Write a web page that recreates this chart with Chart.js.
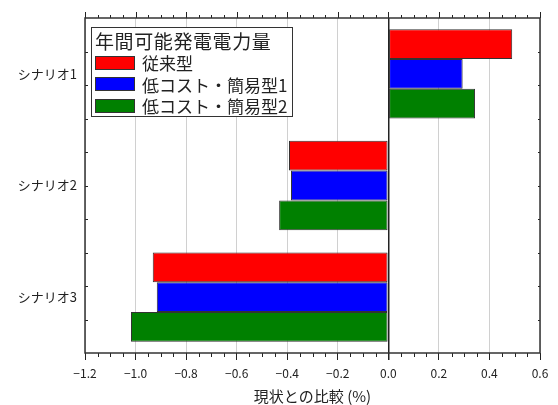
<!DOCTYPE html>
<html>
<head>
<meta charset="utf-8">
<script src="https://cdn.jsdelivr.net/npm/chart.js@4"></script>
<style>
  body { margin: 0; background: #fff; }
  #wrap { position: relative; width: 558px; height: 405px; }
  #legend {
    position: absolute; left: 91px; top: 27px; width: 202px; height: 90px;
    border: 1px solid #333; background: #fff;
    font-family: "Noto Sans CJK JP", sans-serif; color: #222;
    box-sizing: border-box; padding: 1px 0 0 3px; white-space: nowrap;
  }
  #legend .title { font-size: 19px; line-height: 23px; letter-spacing: 0.6px; }
  #legend .row { display: flex; align-items: center; height: 21.5px; font-size: 17px; line-height: 21px; }
  #legend .sw { width: 38px; height: 12px; border: 1px solid #333; margin-right: 7px; flex: none; }
</style>
</head>
<body>
<div id="wrap">
  <canvas id="chart" width="558" height="405"></canvas>
  <div id="legend"></div>
</div>
<script>
document.addEventListener('DOMContentLoaded', () => {
    // データ
    const scenarios = ['シナリオ1', 'シナリオ2', 'シナリオ3'];
    const seriesNames = ['従来型', '低コスト・簡易型1', '低コスト・簡易型2'];
    const juraigata = [0.49, -0.393, -0.932];
    const kanni1 = [0.294, -0.385, -0.916];
    const kanni2 = [0.343, -0.432, -1.018];
    const colors = ['#ff0000', '#0000ff', '#008000'];
    const legendTitle = '年間可能発電電力量';
    const axisTitle = '現状との比較 (%)';

    const fontJP = '"Noto Sans CJK JP", sans-serif';

    // 凡例 (HTML)
    const legend = document.getElementById('legend');
    let html = '<div class="title">' + legendTitle + '</div>';
    seriesNames.forEach((name, i) => {
        html += '<div class="row"><span class="sw" style="background:' + colors[i] + '"></span>' + name + '</div>';
    });
    legend.innerHTML = html;

    // 枠と補助目盛りを描くプラグイン
    const frame = {
        id: 'frame',
        afterDraw(chart) {
            const { ctx, chartArea: a, scales } = chart;
            const x = scales.x;
            ctx.save();
            ctx.strokeStyle = '#222';
            ctx.lineWidth = 1;
            // 補助目盛り（上下）
            for (let v = -1.2; v <= 0.6001; v += 0.05) {
                const px = Math.round(x.getPixelForValue(v)) + 0.5;
                const major = Math.abs(v * 5 - Math.round(v * 5)) < 1e-6;
                const len = major ? 6 : 3;
                ctx.beginPath();
                ctx.moveTo(px, a.top); ctx.lineTo(px, a.top - len);
                if (!major) { ctx.moveTo(px, a.bottom); ctx.lineTo(px, a.bottom + 4); }
                ctx.stroke();
            }
            // 左右の目盛り
            for (let k = 1; k < 10; k++) {
                const py = Math.round(a.top + (a.bottom - a.top) * k / 10) + 0.5;
                ctx.beginPath();
                ctx.moveTo(a.left, py); ctx.lineTo(a.left + 3, py);
                ctx.moveTo(a.right, py); ctx.lineTo(a.right - 2, py);
                ctx.stroke();
            }
            // 枠
            ctx.lineWidth = 1.5;
            ctx.strokeStyle = '#333';
            ctx.strokeRect(a.left, a.top, a.right - a.left, a.bottom - a.top);
            ctx.restore();
        }
    };

    const makeSet = (label, data, color) => ({
        label: label,
        data: data,
        backgroundColor: color,
        borderColor: '#333',
        borderWidth: 1,
        borderSkipped: false,
        categoryPercentage: 0.8,
        barPercentage: 1.0
    });

    new Chart(document.getElementById('chart'), {
        type: 'bar',
        data: {
            labels: scenarios,
            datasets: [
                makeSet(seriesNames[0], juraigata, colors[0]),
                makeSet(seriesNames[1], kanni1, colors[1]),
                makeSet(seriesNames[2], kanni2, colors[2])
            ]
        },
        plugins: [frame],
        options: {
            indexAxis: 'y',
            responsive: false,
            animation: false,
            layout: { padding: { top: 18, right: 18, left: 0, bottom: 0 } },
            plugins: {
                legend: { display: false },
                tooltip: { enabled: false }
            },
            scales: {
                x: {
                    min: -1.2,
                    max: 0.6,
                    afterFit: (s) => { s.height = 52; },
                    ticks: {
                        stepSize: 0.2,
                        color: '#222',
                        padding: 6,
                        font: { family: fontJP, size: 12 },
                        callback: (v) => Number(v).toFixed(1).replace('-', '−')
                    },
                    grid: {
                        color: (c) => Math.abs(c.tick.value) < 1e-9 ? '#222' : '#d0d0d0',
                        lineWidth: (c) => Math.abs(c.tick.value) < 1e-9 ? 1.5 : 1,
                        tickColor: '#222',
                        tickLength: 7
                    },
                    border: { display: false },
                    title: {
                        display: true,
                        text: axisTitle,
                        color: '#222',
                        padding: { top: 0, bottom: 0 },
                        font: { family: fontJP, size: 15 }
                    }
                },
                y: {
                    afterFit: (s) => { s.width = 85; },
                    ticks: {
                        color: '#222',
                        padding: 8,
                        font: { family: fontJP, size: 13 }
                    },
                    grid: { display: false, drawTicks: false },
                    border: { display: false }
                }
            }
        }
    });
});
</script>
</body>
</html>
